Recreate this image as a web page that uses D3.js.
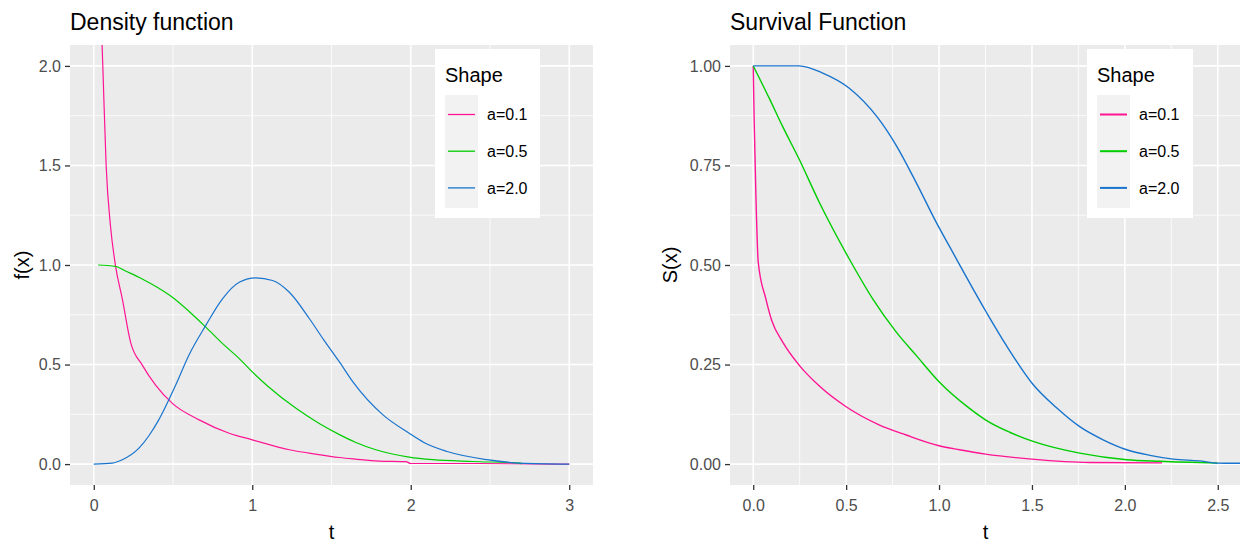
<!DOCTYPE html>
<html>
<head>
<meta charset="utf-8">
<script src="https://cdn.jsdelivr.net/npm/d3@7"></script>
<style>
  body { margin: 0; background: #fff; }
  svg text { font-family: "Liberation Sans", Arial, sans-serif; }
</style>
</head>
<body>
<div class="canvas"></div>
<script>
// ---- data ----
const shapes = ["a=0.1", "a=0.5", "a=2.0"]
const colors = ["#ff1493", "#00cd00", "#1874cd"]

// density f(x)
const densT1 = [0.04, 0.057, 0.078, 0.105, 0.137, 0.18, 0.232, 0.306, 0.39, 0.496, 0.665, 0.854, 1.0, 1.234, 1.4, 1.55, 1.65, 1.8, 1.97, 2.0, 2.4, 2.9, 3.0]
const densF1 = [2.4, 2.0, 1.5, 1.2, 0.997, 0.83, 0.613, 0.497, 0.397, 0.305, 0.222, 0.155, 0.122, 0.072, 0.05, 0.033, 0.025, 0.015, 0.012, 0.003, 0.003, 0.0, 0.0]
const densT2 = [0.027, 0.137, 0.2, 0.306, 0.4, 0.496, 0.6, 0.707, 0.82, 0.918, 1.0, 1.1, 1.276, 1.42, 1.55, 1.65, 1.78, 1.99, 2.14, 2.39, 2.69, 2.7]
const densF2 = [1.0, 0.993, 0.97, 0.93, 0.888, 0.838, 0.768, 0.688, 0.6, 0.53, 0.463, 0.39, 0.28, 0.205, 0.148, 0.11, 0.072, 0.035, 0.022, 0.013, 0.005, 0.0]
const densT3 = [0, 0.116, 0.18, 0.285, 0.35, 0.41, 0.517, 0.6, 0.707, 0.812, 0.918, 1.023, 1.128, 1.234, 1.361, 1.45, 1.55, 1.635, 1.825, 1.99, 2.08, 2.23, 2.48, 2.69, 3.0]
const densF3 = [0, 0.005, 0.022, 0.08, 0.145, 0.222, 0.397, 0.547, 0.697, 0.83, 0.913, 0.935, 0.922, 0.863, 0.73, 0.625, 0.513, 0.413, 0.247, 0.155, 0.11, 0.063, 0.022, 0.005, 0.0]

// survival S(x)
const survT1 = [0, 0.005, 0.014, 0.027, 0.068, 0.1, 0.158, 0.248, 0.356, 0.5, 0.68, 0.823, 1.0, 1.11, 1.25, 1.5, 1.81, 2.2]
const survS1 = [1, 0.865, 0.682, 0.507, 0.415, 0.36, 0.307, 0.248, 0.196, 0.144, 0.098, 0.073, 0.046, 0.036, 0.025, 0.0125, 0.004, 0.003]
const survT2 = [0, 0.086, 0.158, 0.248, 0.356, 0.517, 0.643, 0.769, 0.877, 1.0, 1.164, 1.254, 1.38, 1.506, 1.757, 2.01, 2.19, 2.5]
const survS2 = [1, 0.919, 0.848, 0.765, 0.657, 0.515, 0.415, 0.332, 0.273, 0.207, 0.14, 0.11, 0.08, 0.057, 0.0275, 0.011, 0.007, 0.0025]
const survT3 = [0, 0.248, 0.374, 0.517, 0.67, 0.77, 0.877, 0.985, 1.057, 1.254, 1.362, 1.506, 1.631, 1.757, 1.883, 2.01, 2.135, 2.26, 2.4, 2.5, 2.62]
const survS3 = [1, 1, 0.982, 0.944, 0.87, 0.8, 0.707, 0.607, 0.546, 0.382, 0.298, 0.2, 0.142, 0.094, 0.061, 0.036, 0.022, 0.0125, 0.008, 0.0025, 0.002]

const densXTicks = [0, 1, 2, 3]
const densYTicks = [0, 0.5, 1.0, 1.5, 2.0]
const survXTicks = [0, 0.5, 1.0, 1.5, 2.0, 2.5]
const survYTicks = [0, 0.25, 0.5, 0.75, 1.0]

const width = 1240
const height = 544

const svg = d3.select(".canvas").append("svg")
    .attr("width", width)
    .attr("height", height)

function zip(ts, vs) {
    return ts.map((t, i) => ({ t: t, v: vs[i] }))
}

function drawPanel(p) {
    const g = svg.append("g")
    const x = d3.scaleLinear().domain(p.xDomain).range([p.left, p.right])
    const y = d3.scaleLinear().domain(p.yDomain).range([p.bottom, p.top])

    g.append("rect")
        .attr("x", p.left).attr("y", p.top)
        .attr("width", p.right - p.left).attr("height", p.bottom - p.top)
        .attr("fill", "#ebebeb")

    // minor grid: midpoints between major ticks
    const mid = a => a.slice(1).map((d, i) => (d + a[i]) / 2)
    const xMinor = mid(p.xTicks).concat([p.xTicks[p.xTicks.length - 1] + (p.xTicks[1] - p.xTicks[0]) / 2])
        .filter(d => x(d) < p.right)
    const yMinor = mid(p.yTicks)

    g.selectAll(".xminor").data(xMinor).enter().append("line")
        .attr("x1", d => x(d)).attr("x2", d => x(d))
        .attr("y1", p.top).attr("y2", p.bottom)
        .attr("stroke", "#fff").attr("stroke-width", 0.8)
    g.selectAll(".yminor").data(yMinor).enter().append("line")
        .attr("x1", p.left).attr("x2", p.right)
        .attr("y1", d => y(d)).attr("y2", d => y(d))
        .attr("stroke", "#fff").attr("stroke-width", 0.8)
    g.selectAll(".xmajor").data(p.xTicks).enter().append("line")
        .attr("x1", d => x(d)).attr("x2", d => x(d))
        .attr("y1", p.top).attr("y2", p.bottom)
        .attr("stroke", "#fff").attr("stroke-width", 1.6)
    g.selectAll(".ymajor").data(p.yTicks).enter().append("line")
        .attr("x1", p.left).attr("x2", p.right)
        .attr("y1", d => y(d)).attr("y2", d => y(d))
        .attr("stroke", "#fff").attr("stroke-width", 1.6)

    // lines, clipped to panel
    const clipId = "clip" + p.id
    svg.append("clipPath").attr("id", clipId)
        .append("rect")
        .attr("x", p.left).attr("y", p.top)
        .attr("width", p.right - p.left).attr("height", p.bottom - p.top)

    const line = d3.line().x(d => x(d.t)).y(d => y(d.v)).curve(d3.curveMonotoneX)
    g.append("g").attr("clip-path", "url(#" + clipId + ")")
        .selectAll("path").data(p.series).enter().append("path")
        .attr("d", d => line(d))
        .attr("fill", "none")
        .attr("stroke", (d, i) => colors[i])
        .attr("stroke-width", p.lw)
        .attr("stroke-linejoin", "round")

    // axes
    const xAxis = g.append("g")
        .attr("transform", "translate(0," + p.bottom + ")")
        .call(d3.axisBottom(x).tickValues(p.xTicks).tickFormat(p.xFmt).tickSize(5).tickPadding(10))
    const yAxis = g.append("g")
        .attr("transform", "translate(" + p.left + ",0)")
        .call(d3.axisLeft(y).tickValues(p.yTicks).tickFormat(p.yFmt).tickSize(5).tickPadding(4))
    for (const a of [xAxis, yAxis]) {
        a.select(".domain").remove()
        a.selectAll("line").attr("stroke", "#333").attr("stroke-width", 1.3)
        a.selectAll("text").attr("fill", "#4d4d4d").style("font-size", "16px")
    }

    // titles
    g.append("text")
        .attr("x", p.left).attr("y", 30)
        .style("font-size", "23px").attr("fill", "#000")
        .text(p.title)
    g.append("text")
        .attr("x", (p.left + p.right) / 2).attr("y", 539)
        .attr("text-anchor", "middle")
        .style("font-size", "20px").attr("fill", "#000")
        .text("t")
    g.append("text")
        .attr("transform", "translate(" + p.yLabelX + "," + (p.top + p.bottom) / 2 + ") rotate(-90)")
        .attr("text-anchor", "middle")
        .style("font-size", "20px").attr("fill", "#000")
        .text(p.yLabel)

    // legend
    const L = p.legend
    const lg = g.append("g")
    lg.append("rect")
        .attr("x", L.x).attr("y", 49).attr("width", L.w).attr("height", 169)
        .attr("fill", "#fff")
    lg.append("text")
        .attr("x", L.x + 10).attr("y", 82)
        .style("font-size", "20px").attr("fill", "#000")
        .text("Shape")
    lg.append("rect")
        .attr("x", L.x + 10).attr("y", 95).attr("width", 33).attr("height", 113)
        .attr("fill", "#f2f2f2")
    const keys = lg.selectAll(".key").data(shapes).enter().append("g")
        .attr("transform", (d, i) => "translate(0," + (114.5 + i * 36.7) + ")")
    keys.append("line")
        .attr("x1", L.x + 13).attr("x2", L.x + 40)
        .attr("stroke", (d, i) => colors[i])
        .attr("stroke-width", L.lw)
    keys.append("text")
        .attr("x", L.x + 52).attr("dy", "0.36em")
        .style("font-size", "16px").attr("fill", "#000")
        .text(d => d)
}

drawPanel({
    id: "dens", title: "Density function", yLabel: "f(x)", yLabelX: 29,
    left: 70, right: 593, top: 45, bottom: 485,
    xDomain: [-0.15, 3.15], yDomain: [-0.105, 2.105],
    xTicks: densXTicks, yTicks: densYTicks,
    xFmt: d3.format("d"), yFmt: d3.format(".1f"),
    series: [zip(densT1, densF1), zip(densT2, densF2), zip(densT3, densF3)],
    lw: 1.2,
    legend: { x: 435, w: 105, lw: 1.3 }
})

drawPanel({
    id: "surv", title: "Survival Function", yLabel: "S(x)", yLabelX: 677,
    left: 730, right: 1241, top: 45, bottom: 485,
    xDomain: [-0.125, 2.625], yDomain: [-0.0525, 1.0525],
    xTicks: survXTicks, yTicks: survYTicks,
    xFmt: d3.format(".1f"), yFmt: d3.format(".2f"),
    series: [zip(survT1, survS1), zip(survT2, survS2), zip(survT3, survS3)],
    lw: 1.4,
    legend: { x: 1087, w: 106, lw: 2 }
})
</script>
</body>
</html>
